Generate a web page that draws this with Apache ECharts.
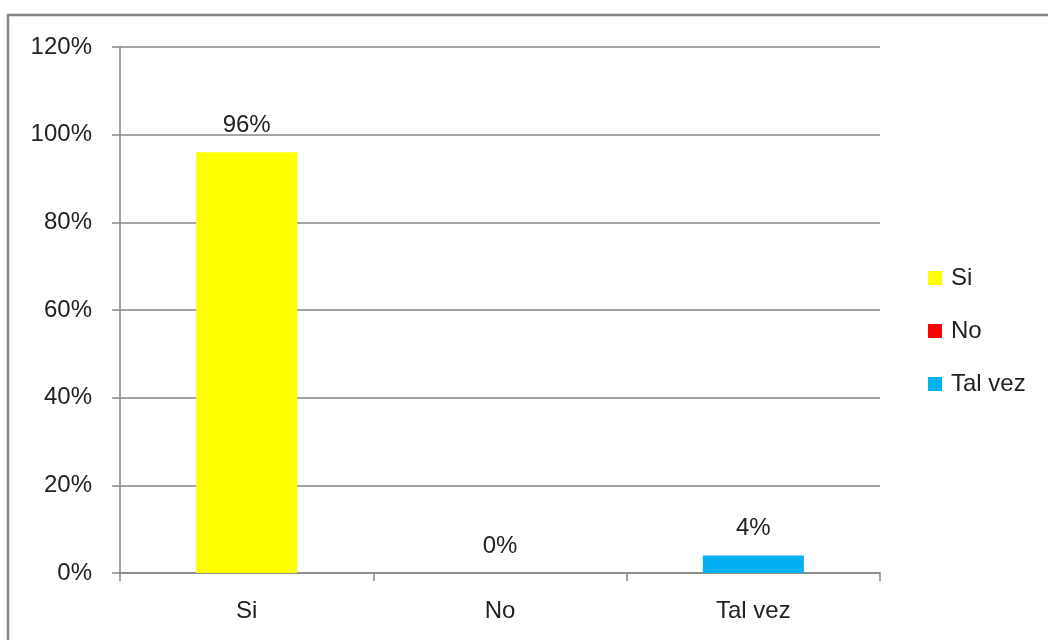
<!DOCTYPE html>
<html>
<head>
<meta charset="utf-8">
<script src="https://cdn.jsdelivr.net/npm/echarts@6/dist/echarts.min.js"></script>
<style>
  html, body { margin: 0; padding: 0; background: #fff; }
  #chart { width: 1048px; height: 640px; }
</style>
</head>
<body>
<div id="chart"></div>
<script>
// Survey answers and their share of respondents (%)
const categories = ['Si', 'No', 'Tal vez'];
const values = [96, 0, 4];
const colors = ['#FFFF00', '#FF0000', '#00B0F0'];
const yTicks = { min: 0, max: 120, interval: 20 };

const font = '"Liberation Sans", "Noto Sans", sans-serif';
const textColor = '#222';
const fontSize = 24;

// One series per answer so each gets its own legend entry; stacking keeps bars centred.
const series = categories.map((name, i) => ({
  name: name,
  type: 'bar',
  stack: 'answers',
  barWidth: 101,
  itemStyle: { color: colors[i] },
  data: categories.map((c, j) => (j === i ? values[i] : null)),
  label: {
    show: true,
    position: 'top',
    distance: 15,
    formatter: p => p.value + '%',
    color: textColor,
    fontSize: fontSize,
    fontFamily: font
  }
}));

const chart = echarts.init(document.getElementById('chart'));
chart.setOption({
  animation: false,
  backgroundColor: '#fff',
  graphic: [{
    type: 'rect',
    shape: { x: 8, y: 15, width: 1100, height: 700 },
    style: { fill: 'none', stroke: '#868686', lineWidth: 2.5 },
    silent: true
  }],
  grid: { left: 120, right: 168, top: 47, bottom: 67, containLabel: false },
  legend: {
    orient: 'vertical',
    left: 923,
    top: 261,
    itemGap: 29,
    itemWidth: 14,
    itemHeight: 14,
    icon: 'rect',
    textStyle: { fontSize: fontSize, fontFamily: font, color: textColor, padding: [0, 0, 0, 4] },
    data: categories
  },
  xAxis: {
    type: 'category',
    data: categories,
    axisLine: { lineStyle: { color: '#868686', width: 1.5 } },
    axisTick: { show: true, length: 8, alignWithLabel: false, lineStyle: { color: '#868686', width: 1.5 } },
    axisLabel: { fontSize: fontSize, fontFamily: font, color: textColor, margin: 26 }
  },
  yAxis: {
    type: 'value',
    min: yTicks.min,
    max: yTicks.max,
    interval: yTicks.interval,
    axisLine: { show: true, lineStyle: { color: '#868686', width: 1.5 } },
    axisTick: { show: true, length: 8, inside: false, lineStyle: { color: '#868686', width: 1.5 } },
    splitLine: { lineStyle: { color: '#868686', width: 1.5 } },
    axisLabel: { formatter: '{value}%', fontSize: fontSize, fontFamily: font, color: textColor, margin: 28 }
  },
  series: series
});
</script>
</body>
</html>
